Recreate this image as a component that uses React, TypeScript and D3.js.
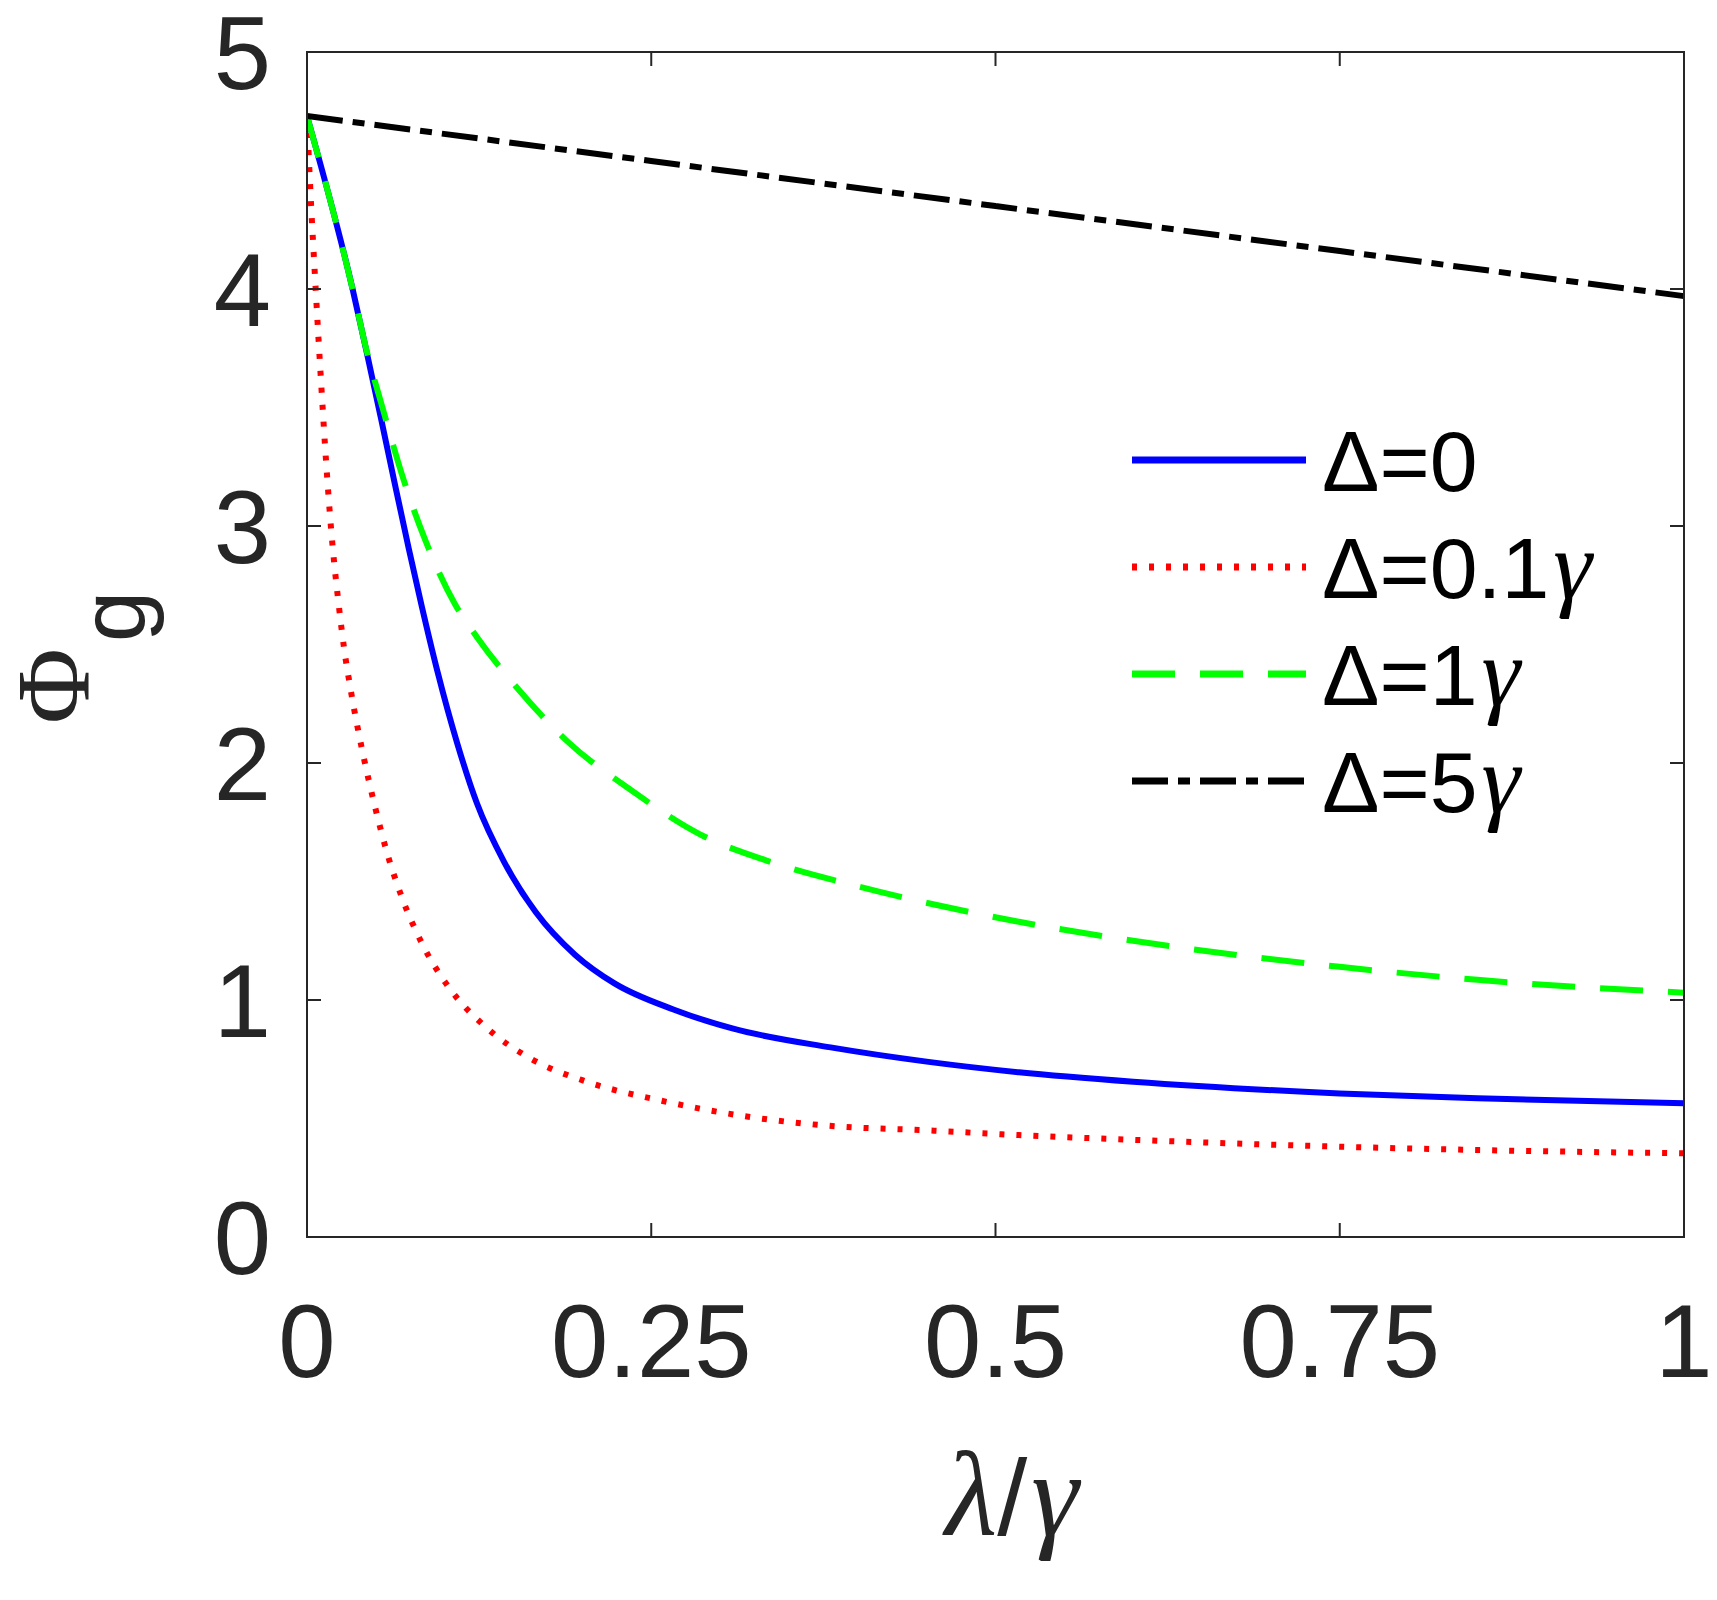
import React from "react";
import * as d3 from "d3";

// ---- data ----
const xTickValues = [0, 0.25, 0.5, 0.75, 1];
const xTickLabels = ["0", "0.25", "0.5", "0.75", "1"];
const yTickValues = [0, 1, 2, 3, 4, 5];
const yTickLabels = ["0", "1", "2", "3", "4", "5"];

const lambdaBlue = [0, 0.0331, 0.0433, 0.0535, 0.0637, 0.0739, 0.0834, 0.0948, 0.109, 0.1234, 0.1434, 0.1662, 0.1948, 0.2233, 0.2661, 0.3089, 0.3803, 0.45, 0.517, 0.6, 0.75, 0.85, 1.0];
const phiBlue = [4.73, 4.0, 3.735, 3.46, 3.18, 2.905, 2.66, 2.385, 2.085, 1.83, 1.58, 1.37, 1.19, 1.07, 0.96, 0.88, 0.8, 0.74, 0.695, 0.655, 0.606, 0.585, 0.564];

const lambdaRed = [0, 0.002, 0.0064, 0.0102, 0.014, 0.0179, 0.023, 0.0268, 0.032, 0.0406, 0.0492, 0.0577, 0.0691, 0.0834, 0.1034, 0.129, 0.1633, 0.2033, 0.2575, 0.3175, 0.3774, 0.45, 0.517, 0.6, 0.75, 0.85, 1.0];
const phiRed = [4.73, 4.47, 3.99, 3.61, 3.26, 2.96, 2.67, 2.49, 2.3, 2.04, 1.82, 1.63, 1.43, 1.24, 1.05, 0.89, 0.75, 0.655, 0.575, 0.51, 0.47, 0.45, 0.43, 0.41, 0.381, 0.367, 0.353];

const lambdaGreen = [0, 0.0331, 0.0433, 0.0548, 0.0688, 0.0859, 0.1075, 0.1236, 0.1536, 0.1893, 0.2342, 0.2851, 0.338, 0.4, 0.517, 0.6, 0.75, 0.85, 1.0];
const phiGreen = [4.73, 4.0, 3.74, 3.5, 3.22, 2.94, 2.67, 2.53, 2.31, 2.09, 1.89, 1.7, 1.58, 1.48, 1.33, 1.25, 1.14, 1.085, 1.031];

const lambdaBlack = [0, 0.25, 0.5, 0.75, 1.0];
const phiBlack = [4.73, 4.54, 4.35, 4.16, 3.97];

const seriesNames = ["0", "0.1", "1", "5"];

// ---- layout ----
const W = 1717;
const H = 1600;
const L = 307;
const R = 1684;
const T = 52;
const B = 1237;
const TEXT = "#262626";
const SANS = "'Liberation Sans', Arial, Helvetica, sans-serif";
const SERIF = "'Liberation Serif', 'Times New Roman', serif";

export default function App() {
  const x = d3.scaleLinear().domain([0, 1]).range([L, R]);
  const y = d3.scaleLinear().domain([0, 5]).range([B, T]);

  const mk = (xs: number[], ys: number[]) =>
    d3
      .line<number>()
      .x((_, i) => x(xs[i]))
      .y((_, i) => y(ys[i]))
      .curve(d3.curveMonotoneX)(xs);

  const series = [
    { xs: lambdaBlue, ys: phiBlue, color: "#0000ff", dash: "", name: seriesNames[0], gamma: false },
    { xs: lambdaRed, ys: phiRed, color: "#ff0000", dash: "5,12", name: seriesNames[1], gamma: true },
    { xs: lambdaGreen, ys: phiGreen, color: "#00ff00", dash: "43,25", name: seriesNames[2], gamma: true },
    { xs: lambdaBlack, ys: phiBlack, color: "#000000", dash: "36,10,12,10", name: seriesNames[3], gamma: true },
  ];
  const tick = 14;
  const fsTick = 103;
  const fsLeg = 86;

  return (
    <svg width={W} height={H} style={{ position: "absolute", left: 0, top: 0, background: "#fff" }}>
      <defs>
        <clipPath id="plotclip">
          <rect x={L} y={T - 4} width={R - L + 2} height={B - T + 4} />
        </clipPath>
      </defs>
      <rect x={0} y={0} width={W} height={H} fill="#fff" />
      {/* curves */}
      <g clipPath="url(#plotclip)">
        {series.map((s, i) => (
          <path key={i} d={mk(s.xs, s.ys) || ""} fill="none" stroke={s.color} strokeWidth={6} strokeDasharray={s.dash || undefined} />
        ))}
      </g>
      {/* axes box */}
      <rect x={L} y={T} width={R - L} height={B - T} fill="none" stroke={TEXT} strokeWidth={2} />
      {xTickValues.map((v, i) => (
        <g key={"xt" + i}>
          <line x1={x(v)} x2={x(v)} y1={B} y2={B - tick} stroke={TEXT} strokeWidth={2} />
          <line x1={x(v)} x2={x(v)} y1={T} y2={T + tick} stroke={TEXT} strokeWidth={2} />
          <text x={x(v)} y={B + 140} fontFamily={SANS} fontSize={fsTick} fill={TEXT} textAnchor="middle">
            {xTickLabels[i]}
          </text>
        </g>
      ))}
      {yTickValues.map((v, i) => (
        <g key={"yt" + i}>
          <line x1={L} x2={L + tick} y1={y(v)} y2={y(v)} stroke={TEXT} strokeWidth={2} />
          <line x1={R} x2={R - tick} y1={y(v)} y2={y(v)} stroke={TEXT} strokeWidth={2} />
          <text x={271} y={y(v) + 37} fontFamily={SANS} fontSize={fsTick} fill={TEXT} textAnchor="end">
            {yTickLabels[i]}
          </text>
        </g>
      ))}
      {/* x label */}
      <text x={1012} y={1535} textAnchor="middle" fill={TEXT} fontSize={120}>
        <tspan fontFamily={SERIF} fontStyle="italic">λ</tspan>
        <tspan fontFamily={SANS} fontSize={108}>/</tspan>
        <tspan fontFamily={SERIF} fontStyle="italic" dx={4}>γ</tspan>
      </text>
      {/* y label */}
      <text transform="translate(88, 724) rotate(-90)" fontFamily={SERIF} fontSize={104} fill={TEXT}>
        Φ
      </text>
      <text transform="translate(145, 642) rotate(-90)" fontFamily={SANS} fontSize={92} fill={TEXT}>
        g
      </text>
      {/* legend */}
      {series.map((s, k) => {
        const ly = 460 + k * 107;
        return (
          <g key={"lg" + k}>
            <line x1={1132} x2={1306} y1={ly} y2={ly} stroke={s.color} strokeWidth={7} strokeDasharray={s.dash || undefined} />
            <text x={1322} y={ly + 31} fontSize={fsLeg} fill="#000">
              <tspan fontFamily={SANS}>{"Δ=" + s.name}</tspan>
              {s.gamma ? (
                <tspan fontFamily={SERIF} fontStyle="italic" fontSize={98} dx={4}>γ</tspan>
              ) : null}
            </text>
          </g>
        );
      })}
    </svg>
  );
}
